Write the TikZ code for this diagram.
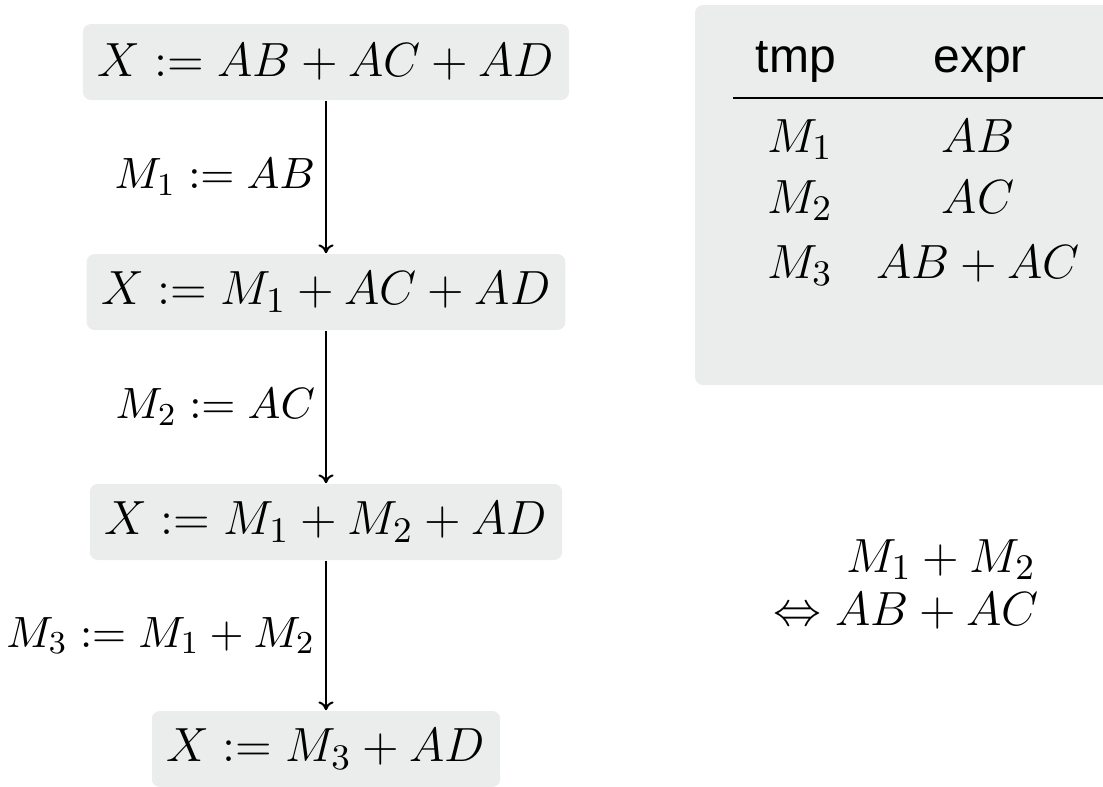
\documentclass[tikz,border=0pt]{standalone}
\usepackage{fontspec}
\newfontfamily\headfont{Liberation Sans}
\usetikzlibrary{arrows.meta}
\definecolor{boxgray}{RGB}{235,236,236}
\tikzset{
  expbox/.style={fill=boxgray,rounded corners=2pt,minimum height=19pt,inner xsep=3.75pt,font=\fontsize{12.7}{15}\selectfont},
  steplabel/.style={left,inner xsep=2.5pt,font=\fontsize{11}{13}\selectfont},
  tabtext/.style={anchor=base,font=\fontsize{12.7}{15}\selectfont},
  tabhead/.style={anchor=base,font=\headfont\fontsize{12}{14}\selectfont}
}
\begin{document}
\begin{tikzpicture}[x=0.25pt,y=-0.25pt,>={To[length=2.2pt,width=3.8pt]}]
\useasboundingbox (0,0) rectangle (1103,786);

\node[expbox] (e1) at (326,62) {$X := AB + AC + AD$};
\node[expbox] (e2) at (326,292) {$X := M_1 + AC + AD$};
\node[expbox] (e3) at (326,522) {$X := M_1 + M_2 + AD$};
\node[expbox] (e4) at (326,749) {$X := M_3 + AD$};

\draw[->,line width=0.5pt] (e1) -- (e2) node[midway,steplabel] {$M_1 := AB$};
\draw[->,line width=0.5pt] (e2) -- (e3) node[midway,steplabel] {$M_2 := AC$};
\draw[->,line width=0.5pt] (e3) -- (e4) node[midway,steplabel] {$M_3 := M_1 + M_2$};

\fill[boxgray,rounded corners=2pt] (695,5) rectangle (1125,385);
\node[tabhead] (htmp) at (796,72) {tmp};
\node[tabhead] (hexpr) at (980,72) {expr};
\draw[line width=0.4pt] (733,98) -- (1125,98);

\node[tabtext] (m1) at (800,152) {$M_1$};
\node[tabtext] (x1) at (978,152) {$AB$};
\node[tabtext] (m2) at (800,213) {$M_2$};
\node[tabtext] (x2) at (978,213) {$AC$};
\node[tabtext] (m3) at (800,278) {$M_3$};
\node[tabtext] (x3) at (978,278) {$AB + AC$};

\node[tabtext,anchor=base east] (sum) at (1050,572) {$M_1 + M_2$};
\node[tabtext,anchor=base east] (equiv) at (1053,625) {$\Leftrightarrow AB + AC$};
\end{tikzpicture}
\end{document}
